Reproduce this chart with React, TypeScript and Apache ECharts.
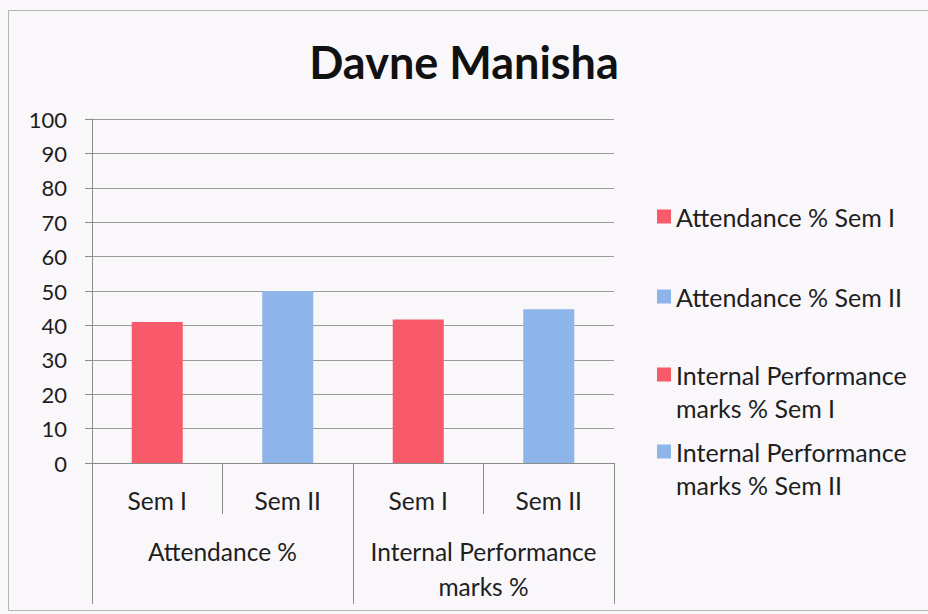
import React, { useEffect, useRef } from "react";
import * as echarts from "echarts";

const titleText = "Davne Manisha";
const semCategories = ["Sem I", "Sem II", "Sem I", "Sem II"];
const groupCategories = ["Attendance %", "Internal Performance\nmarks %"];
const seriesNames = [
  "Attendance % Sem I",
  "Attendance % Sem II",
  "Internal Performance marks % Sem I",
  "Internal Performance marks % Sem II",
];
const legendLabels = [
  "Attendance % Sem I",
  "Attendance % Sem II",
  "Internal Performance\nmarks % Sem I",
  "Internal Performance\nmarks % Sem II",
];
// one value per series, each at its own category
const attendanceSem1 = [41, null, null, null];
const attendanceSem2 = [null, 50, null, null];
const internalSem1 = [null, null, 41.7, null];
const internalSem2 = [null, null, null, 44.7];
const seriesValues = [attendanceSem1, attendanceSem2, internalSem1, internalSem2];
const seriesColors = ["#F85A69", "#8DB5EA", "#F85A69", "#8DB5EA"];
const yTicks = { min: 0, max: 100, interval: 10 };

const FONT = "Lato, 'Noto Sans', sans-serif";
const TEXT = "#1e1e1e";
const LINE = "#8c8c8c";

// square marker placed at the first text line of a two-line legend item
const TOP_SQUARE_ICON =
  "path://M0,0h0.01v0.01h-0.01Z M0,9.5h14v14h-14Z M0,65.99h0.01v0.01h-0.01Z";

export default function App() {
  const ref = useRef<HTMLDivElement>(null);
  useEffect(() => {
    if (!ref.current) return;
    const chart = echarts.init(ref.current, null, { renderer: "svg" });
    const legendTops = [200, 280, 358, 435];
    const legends = seriesNames.map((name, i) => {
      const twoLine = legendLabels[i].includes("\n");
      return {
        data: [name],
        orient: "vertical" as const,
        left: 657,
        top: legendTops[i],
        padding: 0,
        itemWidth: 14,
        itemHeight: twoLine ? 66 : 14,
        itemGap: 5,
        icon: twoLine ? TOP_SQUARE_ICON : "rect",
        formatter: () => legendLabels[i],
        textStyle: {
          fontFamily: FONT,
          fontSize: 25,
          color: TEXT,
          lineHeight: 33,
        },
      };
    });
    chart.setOption({
      animation: false,
      backgroundColor: "#f9f7fa",
      textStyle: { fontFamily: FONT },
      title: {
        text: titleText,
        left: "center",
        top: 30,
        textStyle: {
          fontFamily: FONT,
          fontSize: 45,
          fontWeight: "bold",
          color: "#111",
          lineHeight: 54,
        },
      },
      legend: legends,
      grid: { left: 92, right: 314, top: 119, bottom: 151, containLabel: false },
      xAxis: [
        {
          type: "category",
          data: semCategories,
          position: "bottom",
          axisLine: { show: true, lineStyle: { color: LINE } },
          axisTick: { show: true, length: 51, interval: 0, lineStyle: { color: LINE } },
          axisLabel: {
            interval: 0,
            margin: 24,
            fontFamily: FONT,
            fontSize: 24.5,
            color: TEXT,
            lineHeight: 26,
          },
        },
        {
          type: "category",
          data: groupCategories,
          position: "bottom",
          axisLine: { show: false },
          axisTick: { show: true, length: 141, interval: 0, lineStyle: { color: LINE } },
          axisLabel: {
            interval: 0,
            margin: 71,
            fontFamily: FONT,
            fontSize: 24.5,
            color: TEXT,
            lineHeight: 35,
            verticalAlign: "top",
          },
        },
      ],
      yAxis: {
        type: "value",
        min: yTicks.min,
        max: yTicks.max,
        interval: yTicks.interval,
        axisLine: { show: true, lineStyle: { color: LINE } },
        axisTick: { show: true, length: 7, lineStyle: { color: LINE } },
        splitLine: { show: true, lineStyle: { color: "#9a9a9a" } },
        axisLabel: {
          margin: 25,
          fontFamily: FONT,
          fontSize: 22,
          color: TEXT,
        },
      },
      series: seriesNames.map((name, i) => ({
        name,
        type: "bar",
        stack: "all",
        xAxisIndex: 0,
        barWidth: 51,
        itemStyle: { color: seriesColors[i] },
        data: seriesValues[i].map((v) => (v === null ? "-" : v)),
      })),
      graphic: [
        {
          type: "rect",
          shape: { x: 8.5, y: 10.5, width: 940, height: 600 },
          style: { fill: "none", stroke: "#b5b5b5", lineWidth: 1 },
          silent: true,
        },
      ],
    });
    return () => chart.dispose();
  }, []);
  return (
    <div
      ref={ref}
      style={{ position: "fixed", left: 0, top: 0, width: 928, height: 614 }}
    />
  );
}
